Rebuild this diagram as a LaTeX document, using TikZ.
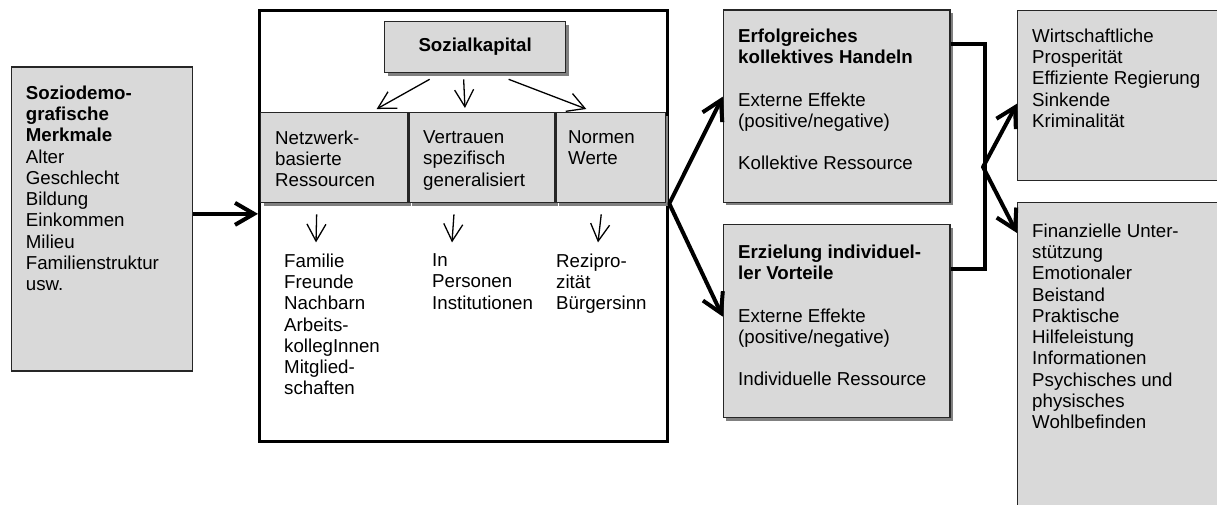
\documentclass[tikz,border=0pt]{standalone}
\usepackage{fontspec}
\setmainfont{Liberation Sans}
\usepackage{tikz}
\usetikzlibrary{arrows.meta,calc,positioning,shadows}
\definecolor{Box_Fill}{HTML}{D9D9D9}
\definecolor{Box_Shadow}{HTML}{808080}
\definecolor{Box_Line}{HTML}{262626}
\newcommand{\diagfont}{\fontsize{18.7}{21.3}\selectfont}

\begin{document}
\begin{tikzpicture}[x=1pt, y=-1pt,
    every node/.style={font=\diagfont, inner sep=0pt},
    greybox/.style={draw=Box_Line, line width=1.3pt, fill=Box_Fill, anchor=north west},
    shadowbox/.style={greybox, general shadow={fill=Box_Shadow, shadow xshift=3pt, shadow yshift=-3pt}},
    textblock/.style={anchor=north west, align=left},
    thinarrow/.style={-{Straight Barb[length=17pt,width=19pt]}, line width=1.3pt},
    boldarrow/.style={-{Straight Barb[length=19pt,width=22pt]}, line width=4pt},
    boldfork/.style={{Straight Barb[length=19pt,width=22pt]}-{Straight Barb[length=19pt,width=22pt]}, line width=4pt, line join=round},
    boldline/.style={line width=4pt}]

    % Page frame
    \useasboundingbox (0,0) rectangle (1217,504);
    \clip (0,0) rectangle (1217,504);

    % Soziodemografische Merkmale
    \node[greybox, line width=1.7pt, minimum width=181pt, minimum height=304pt] (demog) at (10.7,66) {};
    \node[textblock] (demogtext) at (25.7,85.4) {\textbf{Soziodemo-}\\\textbf{grafische}\\\textbf{Merkmale}\\Alter\\Geschlecht\\Bildung\\Einkommen\\Milieu\\Familienstruktur\\usw.};

    % Sozialkapital frame
    \node[draw, line width=3.3pt, anchor=north west, minimum width=408pt, minimum height=431pt] (kapital) at (258,9) {};
    \node[shadowbox, minimum width=181pt, minimum height=51pt, font=\diagfont\bfseries] (sozial) at (384,21) {Sozialkapital};

    % Three dimensions
    \node[shadowbox, minimum width=147pt, minimum height=90pt] (netz) at (260,112) {};
    \node[shadowbox, minimum width=146pt, minimum height=90pt, right=0pt of netz] (vert) {};
    \node[shadowbox, minimum width=109pt, minimum height=90pt, right=0pt of vert] (norm) {};
    \node[textblock] (netztext) at (275,130.4) {Netzwerk-\\basierte\\Ressourcen};
    \node[textblock] (verttext) at (423,130.4) {Vertrauen\\spezifisch\\generalisiert};
    \node[textblock] (normtext) at (568,130.4) {Normen\\Werte};

    \draw[thinarrow] ([xshift=-45.5pt,yshift=-6pt]sozial.south) -- ([xshift=42.5pt,yshift=3pt]netz.north);
    \draw[thinarrow] ([xshift=-11.5pt,yshift=-6pt]sozial.south) -- ([xshift=-17pt,yshift=4pt]vert.north);
    \draw[thinarrow] ([xshift=33.5pt,yshift=-6pt]sozial.south) -- ([xshift=-24.5pt,yshift=3pt]norm.north);

    % Lists below
    \node[textblock] (famlist) at (284,253.4) {Familie\\Freunde\\Nachbarn\\Arbeits-\\kollegInnen\\Mitglied-\\schaften};
    \node[textblock] (instlist) at (432,253.4) {In\\Personen\\Institutionen};
    \node[textblock] (rezilist) at (556,253.4) {Rezipro-\\zität\\Bürgersinn};

    \draw[thinarrow] ([xshift=-17.5pt,yshift=-11pt]netz.south) -- ([xshift=32pt,yshift=11pt]famlist.north west);
    \draw[thinarrow] ([xshift=-28pt,yshift=-11pt]vert.south) -- ([xshift=20pt,yshift=11pt]instlist.north west);
    \draw[thinarrow] ([xshift=-9.5pt,yshift=-11pt]norm.south) -- ([xshift=42pt,yshift=11pt]rezilist.north west);

    % Input arrow
    \draw[boldarrow] ([yshift=5pt]demog.east) -- ([yshift=5pt]demog.east -| kapital.west);

    % Outcomes
    \node[shadowbox, minimum width=226.5pt, minimum height=192.4pt] (erfolg) at (722.7,9.3) {};
    \node[textblock] (erfolgtext) at (738,28.4) {\textbf{Erfolgreiches}\\\textbf{kollektives Handeln}\\[21.3pt]Externe Effekte\\(positive/negative)\\[21.3pt]Kollektive Ressource};
    \node[shadowbox, minimum width=226.5pt, minimum height=193pt] (erziel) at (722.7,224) {};
    \node[textblock] (erzieltext) at (738,244.4) {\textbf{Erzielung individuel-}\\\textbf{ler Vorteile}\\[21.3pt]Externe Effekte\\(positive/negative)\\[21.3pt]Individuelle Ressource};

    \coordinate (split) at ([yshift=22.5pt]kapital.east);
    \draw[boldfork] ([yshift=9.5pt]erfolg.west) -- (split) -- ([yshift=4.5pt]erziel.west);

    % Effects
    \node[greybox, minimum width=230pt, minimum height=170pt] (wirt) at (1017,10) {};
    \node[textblock] (wirttext) at (1032,28.4) {Wirtschaftliche\\Prosperität\\Effiziente Regierung\\Sinkende\\Kriminalität};
    \node[greybox, minimum width=230pt, minimum height=330pt] (fin) at (1017,202) {};
    \node[textblock] (fintext) at (1032,223.4) {Finanzielle Unter-\\stützung\\Emotionaler\\Beistand\\Praktische\\Hilfeleistung\\Informationen\\Psychisches und\\physisches\\Wohlbefinden};

    \draw[boldline] ([yshift=62.5pt]erfolg.east) -- ++(34,0) |- ([yshift=52.5pt]erziel.east);
    \coordinate (merge) at (983,167);
    \draw[boldfork] ([yshift=-8pt]wirt.west) -- (merge) -- ([yshift=-31pt]fin.north west);

\end{tikzpicture}
\end{document}
